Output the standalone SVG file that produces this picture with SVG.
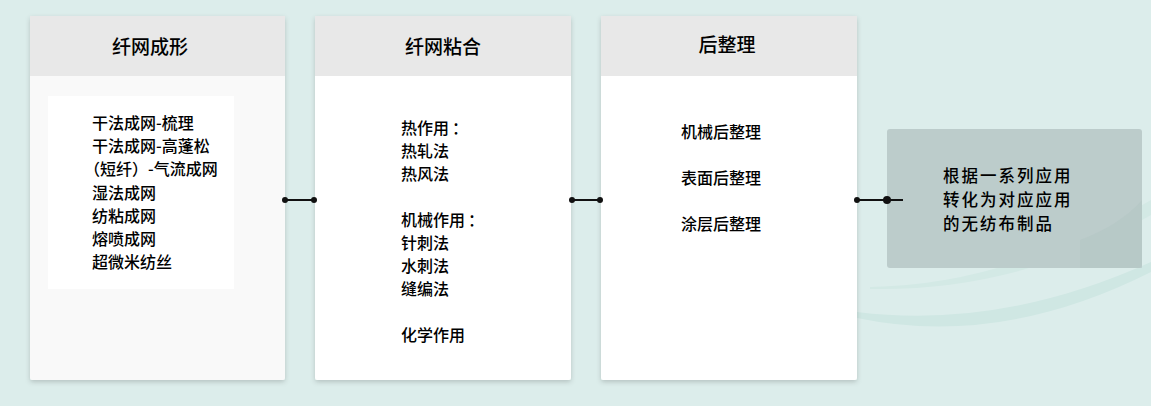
<svg xmlns="http://www.w3.org/2000/svg" width="1151" height="406" viewBox="0 0 1151 406">
<defs>
<filter id="sh" x="-10%" y="-10%" width="120%" height="120%">
<feDropShadow dx="0" dy="2" stdDeviation="2.5" flood-color="#000" flood-opacity="0.18"/>
</filter>
<style>
.hd{font-family:"Noto Sans CJK SC","Noto Sans",sans-serif;font-size:19px;font-weight:500;fill:#000;text-anchor:middle}
.tx{font-family:"Noto Sans CJK SC","Noto Sans",sans-serif;font-size:16px;font-weight:500;fill:#000}
.bt{font-family:"Noto Sans CJK SC","Noto Sans",sans-serif;font-size:16.5px;letter-spacing:2px;font-weight:500;fill:#000}
.ln{stroke:#111;stroke-width:2;fill:none}
.dot{fill:#111}
</style>
</defs>
<rect width="1151" height="406" fill="#dcedeb"/>
<g id="decor">
<path d="M857 312 Q1000 330 1151 262 L1151 272 Q1000 348 857 318 Z" fill="#cfe7e3"/>
<path d="M870 287 Q1010 285 1151 200 L1151 215 Q1020 292 870 289 Z" fill="#d3e9e5"/>
</g>
<g id="n1">
<rect x="30" y="16" width="255" height="364" rx="2" fill="#f9f9f9" filter="url(#sh)"/>
<rect x="30" y="16" width="255" height="60" fill="#e8e8e8"/>
<text class="hd" x="150" y="54">纤网成形</text>
<rect x="48" y="96" width="186" height="193" fill="#ffffff"/>
<text class="tx" x="92" y="129">干法成网-梳理</text>
<text class="tx" x="92" y="152">干法成网-高蓬松</text>
<text class="tx" x="84" y="175">（短纤）-气流成网</text>
<text class="tx" x="92" y="199">湿法成网</text>
<text class="tx" x="92" y="222">纺粘成网</text>
<text class="tx" x="92" y="245">熔喷成网</text>
<text class="tx" x="92" y="268">超微米纺丝</text>
</g>
<g id="n2">
<rect x="315" y="16" width="256" height="364" rx="2" fill="#ffffff" filter="url(#sh)"/>
<rect x="315" y="16" width="256" height="60" fill="#e8e8e8"/>
<text class="hd" x="443" y="54">纤网粘合</text>
<text class="tx" x="401" y="134">热作用<tspan dx="3">：</tspan></text>
<text class="tx" x="401" y="157">热轧法</text>
<text class="tx" x="401" y="180">热风法</text>
<text class="tx" x="401" y="226">机械作用<tspan dx="3">：</tspan></text>
<text class="tx" x="401" y="249">针刺法</text>
<text class="tx" x="401" y="272">水刺法</text>
<text class="tx" x="401" y="295">缝编法</text>
<text class="tx" x="401" y="341">化学作用</text>
</g>
<g id="n3">
<rect x="601" y="16" width="256" height="364" rx="2" fill="#ffffff" filter="url(#sh)"/>
<rect x="601" y="16" width="256" height="60" fill="#e8e8e8"/>
<text class="hd" x="727" y="52">后整理</text>
<text class="tx" x="681" y="138">机械后整理</text>
<text class="tx" x="681" y="184">表面后整理</text>
<text class="tx" x="681" y="230">涂层后整理</text>
</g>
<g id="n4">
<rect x="887" y="129" width="255" height="139" rx="3" fill="#bccccb"/>
<path d="M1080 240 Q1120 225 1142 200 L1142 268 L1080 268 Z" fill="#b4c7c5" opacity="0.6"/>
<text class="bt" x="943" y="182">根据一系列应用</text>
<text class="bt" x="943" y="206">转化为对应应用</text>
<text class="bt" x="943" y="230">的无纺布制品</text>
</g>
<g id="connectors">
<line class="ln" x1="285" y1="200" x2="315" y2="200"/>
<circle class="dot" cx="285" cy="200" r="3"/>
<circle class="dot" cx="314" cy="200" r="3"/>
<line class="ln" x1="571" y1="200" x2="601" y2="200"/>
<circle class="dot" cx="572" cy="200" r="3"/>
<circle class="dot" cx="600" cy="200" r="3"/>
<line class="ln" x1="857" y1="200" x2="903" y2="200"/>
<circle class="dot" cx="857" cy="200" r="3"/>
<circle class="dot" cx="887" cy="200" r="4"/>
</g>
</svg>
